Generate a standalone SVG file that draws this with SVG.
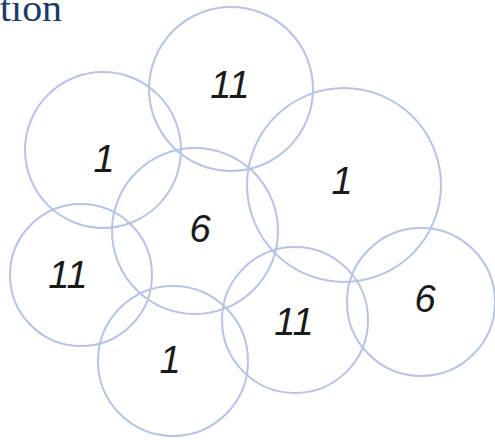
<svg xmlns="http://www.w3.org/2000/svg" width="495" height="440" viewBox="0 0 495 440">
<style>
.c{fill:none;stroke:#b4c4e9;stroke-width:2}
.n{font-family:"Liberation Sans",sans-serif;font-style:italic;font-size:38px;fill:#1a1a1a;text-anchor:middle}
.t{font-family:"Liberation Serif",serif;font-size:37px;fill:#173b6c}
</style>
<rect width="495" height="440" fill="#fff"/>
<text class="t" x="0" y="21" textLength="62" lengthAdjust="spacingAndGlyphs">tion</text>
<g id="connectors"></g>
<g id="n1"><circle class="c" cx="231" cy="89" r="82"/><text class="n" x="230" y="98">11</text></g>
<g id="n2"><circle class="c" cx="103" cy="150" r="78"/><text class="n" x="104" y="172">1</text></g>
<g id="n3"><circle class="c" cx="344" cy="185" r="97"/><text class="n" x="342" y="194">1</text></g>
<g id="n4"><circle class="c" cx="195" cy="231" r="83"/><text class="n" x="200" y="242">6</text></g>
<g id="n5"><circle class="c" cx="81" cy="275" r="71"/><text class="n" x="68" y="288">11</text></g>
<g id="n6"><circle class="c" cx="173" cy="361" r="75"/><text class="n" x="170" y="373">1</text></g>
<g id="n7"><circle class="c" cx="295" cy="320" r="73"/><text class="n" x="294" y="335">11</text></g>
<g id="n8"><circle class="c" cx="421" cy="302" r="74"/><text class="n" x="425" y="312">6</text></g>
</svg>
